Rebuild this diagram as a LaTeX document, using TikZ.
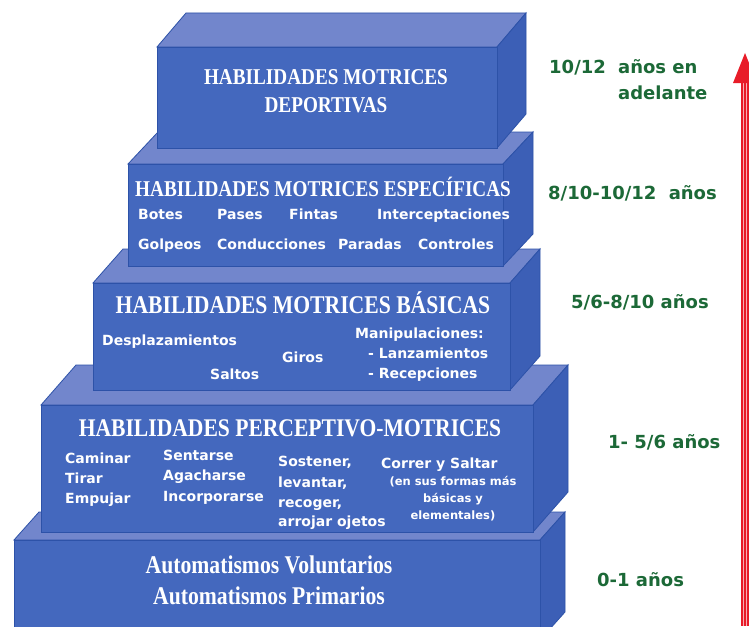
\documentclass[tikz,border=0pt]{standalone}
\usepackage{fontspec}
\setmainfont{Liberation Serif}
\newfontfamily\titlefont[FakeStretch=0.85]{Liberation Serif}
\newfontfamily\itemfont{DejaVu Sans}
\definecolor{frontc}{RGB}{68,104,190}
\definecolor{topc}{RGB}{114,134,204}
\definecolor{sidec}{RGB}{60,95,182}
\definecolor{edgec}{RGB}{45,82,168}
\definecolor{agegreen}{RGB}{28,105,55}
\definecolor{arrowred}{RGB}{232,28,40}
\newcommand\prismbox[6]{%
  \filldraw[fill=topc,draw=edgec,line width=0.8pt] (#1,#2) -- ({#1+#5},{#2+#6}) -- ({#3+#5},{#2+#6}) -- (#3,#2) -- cycle;
  \filldraw[fill=sidec,draw=edgec,line width=0.8pt] (#3,#2) -- ({#3+#5},{#2+#6}) -- ({#3+#5},{#4+#6}) -- (#3,#4) -- cycle;
  \filldraw[fill=frontc,draw=edgec,line width=0.8pt] (#1,#2) rectangle (#3,#4);
}
\tikzset{
  itemtxt/.style={font=\itemfont\bfseries\fontsize{14}{16}\selectfont, text=white, anchor=base west, inner sep=0pt},
  smalltxt/.style={font=\itemfont\bfseries\fontsize{11.5}{13}\selectfont, text=white, anchor=base, inner sep=0pt},
  titletxt/.style={font=\titlefont\bfseries\fontsize{#1}{#1}\selectfont, text=white, anchor=base, inner sep=0pt},
  agetxt/.style={font=\itemfont\bfseries\fontsize{18}{20}\selectfont, text=agegreen, anchor=base west, inner sep=0pt}
}
\begin{document}
\begin{tikzpicture}[x=1pt,y=-1pt]
\useasboundingbox (0,0) rectangle (749,626);
\clip (0,0) rectangle (749,626);
\fill[white] (0,0) rectangle (749,626);
% blocks, bottom to top
\prismbox{14}{540}{540}{640}{25}{-28}
\prismbox{41}{405}{533}{532}{35}{-40}
\prismbox{93}{283}{510}{390}{30}{-34}
\prismbox{128}{164}{503}{266}{30}{-32}
\prismbox{157}{47}{497}{148}{29}{-34}
% block 1
\node[titletxt=22.6] (d1) at (326,84) {HABILIDADES MOTRICES};
\node[titletxt=22.6] (d2) at (326,112) {DEPORTIVAS};
% block 2
\node[titletxt=22.6, anchor=base west] (e0) at (135,196) {HABILIDADES MOTRICES ESPECÍFICAS};
\node[itemtxt] (e1) at (138,219) {Botes};
\node[itemtxt] (e2) at (217,219) {Pases};
\node[itemtxt] (e3) at (289,219) {Fintas};
\node[itemtxt] (e4) at (377,219) {Interceptaciones};
\node[itemtxt] (e5) at (138,249) {Golpeos};
\node[itemtxt] (e6) at (217,249) {Conducciones};
\node[itemtxt] (e7) at (338,249) {Paradas};
\node[itemtxt] (e8) at (418,249) {Controles};
% block 3
\node[titletxt=25.5] (b0) at (303,313) {HABILIDADES MOTRICES BÁSICAS};
\node[itemtxt] (b1) at (102,345) {Desplazamientos};
\node[itemtxt] (b2) at (282,362) {Giros};
\node[itemtxt] (b3) at (210,379) {Saltos};
\node[itemtxt] (b4) at (355,338) {Manipulaciones:};
\node[itemtxt] (b5) at (368,358) {- Lanzamientos};
\node[itemtxt] (b6) at (368,378) {- Recepciones};
% block 4
\node[titletxt=25.4] (p0) at (290,436) {HABILIDADES PERCEPTIVO-MOTRICES};
\node[itemtxt] (p1) at (65,463) {Caminar};
\node[itemtxt] (p2) at (65,483) {Tirar};
\node[itemtxt] (p3) at (65,503) {Empujar};
\node[itemtxt] (p4) at (163,460) {Sentarse};
\node[itemtxt] (p5) at (163,480) {Agacharse};
\node[itemtxt] (p6) at (163,501) {Incorporarse};
\node[itemtxt] (p7) at (278,466) {Sostener,};
\node[itemtxt] (p8) at (278,487) {levantar,};
\node[itemtxt] (p9) at (278,507) {recoger,};
\node[itemtxt] (p10) at (278,526) {arrojar ojetos};
\node[itemtxt] (p11) at (381,468) {Correr y Saltar};
\node[smalltxt] (p12) at (453,485) {(en sus formas más};
\node[smalltxt] (p13) at (453,502) {básicas y};
\node[smalltxt] (p14) at (453,519) {elementales)};
% block 5
\node[titletxt=25.5] (a1) at (269,573) {Automatismos Voluntarios};
\node[titletxt=25.5] (a2) at (269,604) {Automatismos Primarios};
% ages
\node[agetxt] (g1) at (549,73.5) {10/12\hspace{6pt} años en};
\node[agetxt] (g2) at (618,99) {adelante};
\node[agetxt] (g3) at (548,199) {8/10-10/12\hspace{6pt} años};
\node[agetxt] (g4) at (571,308) {5/6-8/10 años};
\node[agetxt] (g5) at (608,448) {1- 5/6 años};
\node[agetxt] (g6) at (597,586) {0-1 años};
% arrow
\fill[arrowred] (741,83) rectangle (749,626);
\draw[white!65!arrowred, line width=0.7pt] (743.5,83) -- (743.5,626);
\draw[white!65!arrowred, line width=0.7pt] (746.5,83) -- (746.5,626);
\fill[arrowred] (733,83) -- (745,53) -- (757,83) -- cycle;
\end{tikzpicture}
\end{document}
